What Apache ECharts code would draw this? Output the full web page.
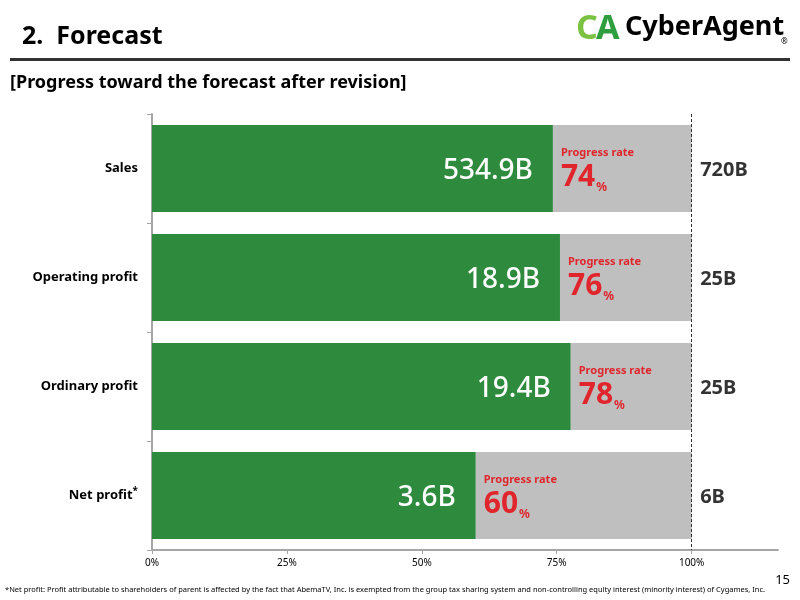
<!DOCTYPE html>
<html>
<head>
<meta charset="utf-8">
<script src="https://cdn.jsdelivr.net/npm/echarts@6/dist/echarts.min.js"></script>
<style>
html, body { margin: 0; padding: 0; background: #fff; }
#container { width: 800px; height: 600px; }
</style>
</head>
<body>
<div id="container"></div>
<script>
var categories = ['Sales', 'Operating profit', 'Ordinary profit', 'Net profit'];
var actual = [534.9, 18.9, 19.4, 3.6];
var target = [720, 25, 25, 6];
var tickValues = [0, 25, 50, 75, 100];

var FONT = '"Noto Sans", "Open Sans", sans-serif';
var GREEN = '#2e8b3e';
var GRAY = '#bfbfbf';
var RED = '#e0262c';

var progress = [];
var rest = [];
var targetPoints = [];
for (var i = 0; i < categories.length; i++) {
    var p = actual[i] / target[i] * 100;
    progress.push(p);
    rest.push(100 - p);
    targetPoints.push([100, categories[i]]);
}

var dom = document.getElementById('container');
var myChart = echarts.init(dom);
var option = {
    animation: false,
    textStyle: { fontFamily: FONT },
    grid: { left: 152, right: 22, top: 114, bottom: 50 },
    xAxis: {
        type: 'value',
        min: 0,
        max: 116,
        interval: 25,
        splitLine: { show: false },
        axisLine: { show: true, lineStyle: { color: '#a6a6a6', width: 2 } },
        axisTick: { show: true, customValues: tickValues, length: 4, lineStyle: { color: '#a6a6a6' } },
        axisLabel: {
            customValues: tickValues,
            formatter: '{value}%',
            color: '#000',
            fontSize: 10,
            fontFamily: FONT,
            margin: 8
        }
    },
    yAxis: {
        type: 'category',
        inverse: true,
        data: categories,
        axisLine: { show: true, lineStyle: { color: '#a6a6a6', width: 2 } },
        axisTick: { show: true, length: 5, lineStyle: { color: '#a6a6a6' } },
        axisLabel: {
            color: '#000',
            fontSize: 13,
            fontWeight: 'bold',
            fontFamily: FONT,
            margin: 14,
            formatter: function (v) {
                return v === 'Net profit' ? v + '{s|*}' : v;
            },
            rich: { s: { fontSize: 10, fontWeight: 'bold', verticalAlign: 'top', padding: [0, 0, 8, 0] } }
        }
    },
    series: [
        {
            name: 'progress',
            type: 'bar',
            stack: 'total',
            barCategoryGap: '20%',
            itemStyle: { color: GREEN },
            label: {
                show: true,
                position: 'insideRight',
                distance: 20,
                offset: [0, 3],
                color: '#fff',
                fontSize: 28,
                fontWeight: 500,
                fontFamily: FONT,
                formatter: function (p) { return actual[p.dataIndex] + 'B'; }
            },
            data: progress
        },
        {
            name: 'rest',
            type: 'bar',
            stack: 'total',
            barCategoryGap: '20%',
            itemStyle: { color: GRAY },
            label: {
                show: true,
                position: 'insideLeft',
                distance: 8,
                offset: [0, 2],
                formatter: function (p) {
                    return '{a|Progress rate}\n{b|' + Math.round(progress[p.dataIndex]) + '}{c|%}';
                },
                rich: {
                    a: { color: RED, fontSize: 11, fontWeight: 'bold', fontFamily: FONT, padding: [0, 0, 2, 0] },
                    b: { color: RED, fontSize: 30, fontWeight: 'bold', fontFamily: FONT, lineHeight: 34 },
                    c: { color: RED, fontSize: 12, fontWeight: 'bold', fontFamily: FONT, verticalAlign: 'bottom', lineHeight: 34, padding: [8, 0, 0, 1] }
                }
            },
            markLine: {
                silent: true,
                symbol: 'none',
                label: { show: false },
                lineStyle: { color: '#333', type: [3, 2], width: 1 },
                data: [{ xAxis: 100 }]
            },
            data: rest
        },
        {
            name: 'target',
            type: 'scatter',
            symbolSize: 1,
            itemStyle: { color: 'rgba(0,0,0,0)' },
            label: {
                show: true,
                position: 'right',
                distance: 8,
                offset: [0, 2],
                color: '#000',
                fontSize: 20,
                fontWeight: 'bold',
                fontFamily: FONT,
                formatter: function (p) { return target[p.dataIndex] + 'B'; }
            },
            data: targetPoints
        }
    ],
    graphic: [
        {
            type: 'text', left: 22, top: 24,
            style: { text: '2.  Forecast', fontSize: 25, fontWeight: 'bold', fontFamily: FONT, fill: '#000' }
        },
        {
            type: 'rect', left: 10, top: 58,
            shape: { width: 780, height: 3 },
            style: { fill: '#333' }
        },
        {
            type: 'text', left: 10, top: 74,
            style: { text: '[Progress toward the forecast after revision]', fontSize: 18, fontWeight: 'bold', fontFamily: FONT, fill: '#000' }
        },
        {
            type: 'text', left: 576, top: 12,
            style: { text: 'C', fontSize: 34, fontWeight: 'bold', fontFamily: FONT, fill: '#7cc242' }
        },
        {
            type: 'text', left: 596, top: 12,
            style: { text: 'A', fontSize: 34, fontWeight: 'bold', fontFamily: FONT, fill: '#2e9e3e' }
        },
        {
            type: 'text', left: 625, top: 14,
            style: { text: 'CyberAgent', fontSize: 27, fontWeight: 'bold', fontFamily: FONT, fill: '#000' }
        },
        {
            type: 'text', left: 781, top: 38,
            style: { text: '®', fontSize: 8, fontFamily: FONT, fill: '#000' }
        },
        {
            type: 'text', right: 10, top: 574,
            style: { text: '15', fontSize: 13, fontFamily: FONT, fill: '#000' }
        },
        {
            type: 'text', left: 5, top: 586,
            style: {
                text: '*Net profit: Profit attributable to shareholders of parent is affected by the fact that AbemaTV, Inc. is exempted from the group tax sharing system and non-controlling equity interest (minority interest) of Cygames, Inc.',
                fontSize: 7.5, fontFamily: FONT, fill: '#000'
            }
        }
    ]
};

if (option && typeof option === 'object') {
    myChart.setOption(option);
}
</script>
</body>
</html>
